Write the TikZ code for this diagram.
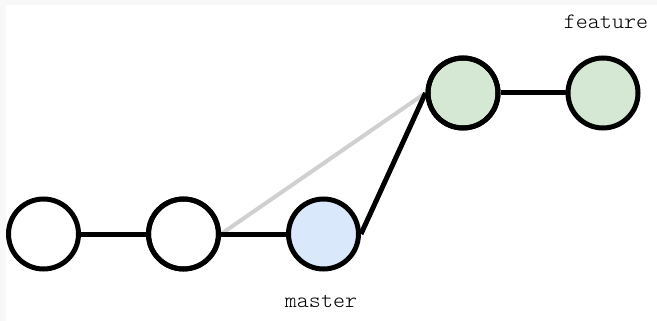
\documentclass[tikz,border=0pt]{standalone}
\usepackage{fontspec}
\setmonofont[FakeStretch=1.04]{Latin Modern Mono Light}
\definecolor{edgegray}{HTML}{F8F8F8}
\definecolor{mergegray}{HTML}{D0D0D0}
\definecolor{bluefill}{HTML}{DAE8FC}
\definecolor{greenfill}{HTML}{D5E8D4}
\begin{document}
\begin{tikzpicture}[x=1pt,y=-1pt,
  commit/.style={circle,draw=black,line width=5pt,minimum size=70pt,inner sep=0pt,fill=white},
  link/.style={line width=5pt,draw=black},
  branchlabel/.style={font=\ttfamily\fontsize{22}{26}\selectfont,inner sep=0pt}]
  % canvas with a faint frame on the top and left
  \fill[edgegray] (0,0) rectangle (657,321);
  \fill[white] (6,5) rectangle (657,321);
  \useasboundingbox (0,0) rectangle (657,321);
  % commits
  \node[commit] (c1) at (43.5,234) {};
  \node[commit] (c2) at (183.5,234) {};
  \node[commit,fill=bluefill] (c3) at (323.5,234) {};
  \node[commit,fill=greenfill] (c4) at (463,93) {};
  \node[commit,fill=greenfill] (c5) at (603,93) {};
  % history
  \draw[line width=4pt,mergegray] (c2.east) -- (c4.west);
  \draw[link] (c1) -- (c2);
  \draw[link] (c2) -- (c3);
  \draw[link] (c3.east) -- (c4.west);
  \draw[link] (c4) -- (c5);
  % redraw commit outlines over the joins
  \foreach \n in {c2,c4}{\draw[line width=5pt] (\n) circle (35pt);}
  % branch names
  \node[branchlabel] (master) at (321,301) {master};
  \node[branchlabel] (feature) at (606,22) {feature};
\end{tikzpicture}
\end{document}
